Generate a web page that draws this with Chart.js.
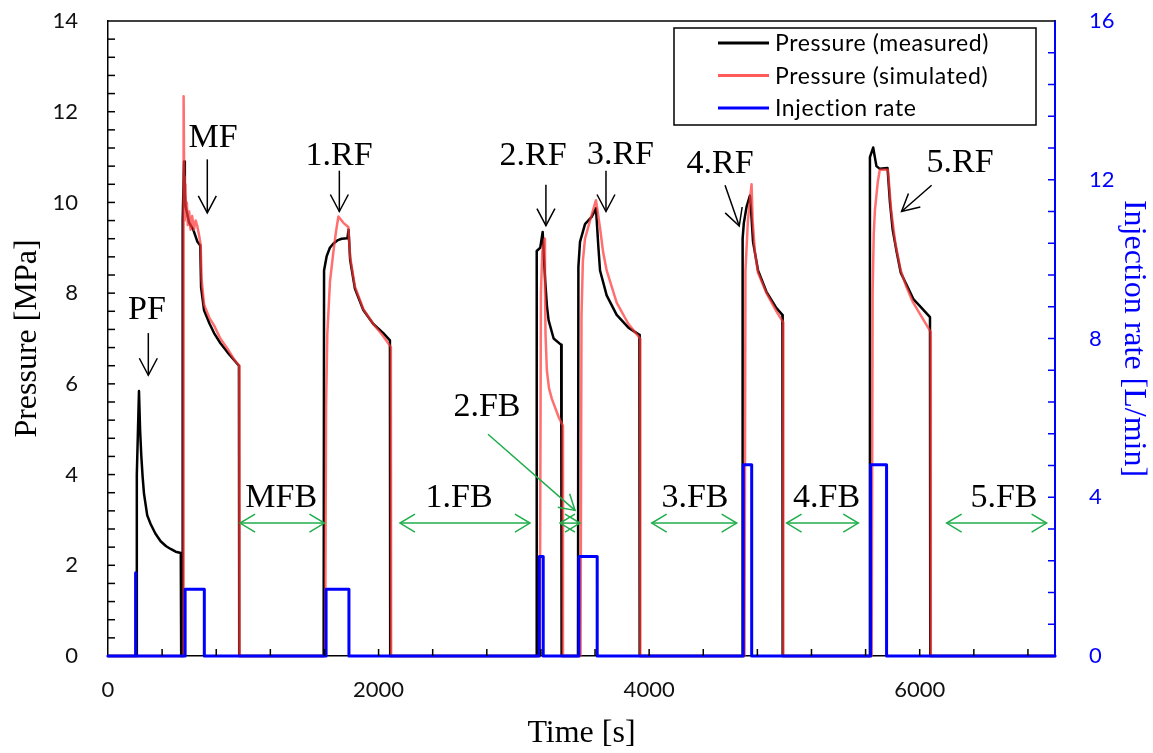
<!DOCTYPE html>
<html>
<head>
<meta charset="utf-8">
<title>Pressure and injection rate</title>
<script src="https://cdn.jsdelivr.net/npm/chart.js@4.4.1/dist/chart.umd.min.js"></script>
<style>
  html, body { margin: 0; padding: 0; background: #fff; }
  #chart { display: block; }
</style>
</head>
<body>
<canvas id="chart" width="1153" height="753"></canvas>
<script>
// measured pressure [MPa] against time [s]
const measT = [0, 210, 213, 229, 237, 246, 256, 266, 290, 315, 350, 389, 430, 463, 500, 538, 541,
  549, 552, 562, 568, 574, 581, 599, 630, 660, 682, 688, 710, 750, 784, 830, 882, 930, 968, 970,
  1594, 1597, 1616, 1640, 1665, 1700, 1727, 1770, 1778, 1790, 1825, 1887, 1961, 2035, 2084, 2086,
  3166, 3169, 3195, 3213, 3222, 3232, 3245, 3257, 3294, 3350, 3353,
  3474, 3477, 3489, 3526, 3575, 3607, 3624, 3637, 3686, 3760, 3847, 3928, 3930,
  4688, 4691, 4700, 4720, 4745, 4752, 4768, 4805, 4867, 4941, 4985, 4987,
  5628, 5632, 5656, 5680, 5705, 5762, 5780, 5800, 5830, 5860, 5900, 5953, 6000, 6076, 6078, 7000];
const measP = [0, 0, 4.0, 5.84, 5.0, 4.42, 3.95, 3.58, 3.1, 2.91, 2.7, 2.53, 2.42, 2.36, 2.3, 2.27, 0,
  0, 9.6, 10.9, 10.2, 9.9, 9.81, 9.56, 9.4, 9.14, 9.05, 8.13, 7.62, 7.33, 7.12, 6.9, 6.7, 6.53, 6.4, 0,
  0, 8.5, 8.81, 9.0, 9.09, 9.17, 9.2, 9.21, 9.4, 8.73, 8.1, 7.63, 7.32, 7.12, 6.96, 0,
  0, 8.93, 9.0, 9.35, 8.8, 8.26, 7.7, 7.4, 7.0, 6.86, 0,
  0, 8.58, 9.13, 9.52, 9.68, 9.87, 9.05, 8.5, 7.95, 7.52, 7.24, 7.08, 0,
  0, 9.2, 9.55, 9.9, 10.15, 9.9, 9.13, 8.5, 8.03, 7.67, 7.52, 0,
  0, 11.0, 11.21, 10.8, 10.74, 10.76, 10.0, 9.4, 8.9, 8.45, 8.2, 7.87, 7.72, 7.47, 0, 0];

// simulated pressure [MPa]
const simT = [0, 555, 559, 563, 567, 572, 577, 583, 590, 600, 610, 622, 635, 648, 660, 675, 685, 692, 710, 750, 784, 830, 882, 930, 970, 972,
  1605, 1612, 1621, 1641, 1665, 1685, 1703, 1740, 1776, 1790, 1825, 1887, 1961, 2035, 2091, 2093,
  3192, 3200, 3210, 3227, 3230, 3234, 3244, 3260, 3281, 3331, 3361, 3363,
  3493, 3500, 3510, 3526, 3563, 3607, 3637, 3660, 3686, 3760, 3847, 3933, 3935,
  4705, 4712, 4730, 4750, 4757, 4765, 4782, 4805, 4867, 4941, 4990, 4992,
  5645, 5652, 5660, 5669, 5690, 5705, 5765, 5790, 5820, 5860, 5900, 5950, 6000, 6080, 6082, 7000];
const simP = [0, 0, 12.34, 10.57, 9.6, 10.4, 9.7, 10.0, 9.5, 9.8, 9.4, 9.7, 9.4, 9.6, 9.48, 9.25, 9.06, 8.3, 7.75, 7.45, 7.29, 7.0, 6.78, 6.55, 6.4, 0,
  0, 5.5, 7.09, 8.26, 8.89, 9.35, 9.69, 9.55, 9.46, 8.8, 8.15, 7.65, 7.32, 7.05, 6.81, 0,
  0, 8.0, 8.9, 9.2, 8.2, 7.1, 6.3, 5.9, 5.67, 5.27, 5.08, 0,
  0, 7.5, 8.7, 9.2, 9.6, 10.05, 9.44, 8.9, 8.5, 7.79, 7.32, 7.0, 0,
  0, 8.5, 9.6, 10.2, 10.4, 9.6, 8.9, 8.45, 8.0, 7.6, 7.36, 0,
  0, 8.0, 9.3, 9.83, 10.45, 10.72, 10.72, 9.8, 9.1, 8.5, 8.15, 7.8, 7.55, 7.15, 0, 0];

// injection rate [L/min], stepped
const rateT = [0, 200, 200, 206, 206, 570, 570, 712, 712, 1612, 1612, 1781, 1781,
  3188, 3188, 3217, 3217, 3481, 3481, 3616, 3616, 4696, 4696, 4758, 4758, 5637, 5637, 5755, 5755, 7000];
const rateQ = [0, 0, 2.1, 2.1, 0, 0, 1.68, 1.68, 0, 0, 1.68, 1.68, 0,
  0, 2.51, 2.51, 0, 0, 2.51, 2.51, 0, 0, 4.82, 4.82, 0, 0, 4.82, 4.82, 0, 0];

const timeTicks = [0, 2000, 4000, 6000];
const pressureTicks = [0, 2, 4, 6, 8, 10, 12, 14];
const rateTicks = [0, 4, 8, 12, 16];

// fracturing stage labels: text, label position, arrow start and end (time, pressure)
const stageNames = ['PF', 'MF', '1.RF', '2.RF', '3.RF', '4.RF', '5.RF'];
const stageLabelT = [288, 776, 1708, 3142, 3788, 4524, 6298];
const stageLabelP = [7.62, 11.41, 11.02, 11.02, 11.05, 10.84, 10.86];
const stageArrowT0 = [298, 734, 1710, 3237, 3681, 4561, 6088];
const stageArrowP0 = [7.12, 10.95, 10.70, 10.39, 10.70, 10.38, 10.38];
const stageArrowT1 = [298, 734, 1710, 3237, 3681, 4666, 5866];
const stageArrowP1 = [6.19, 9.77, 9.80, 9.49, 9.80, 9.48, 9.80];

// flowback periods: text, label centre and the span of the double arrow
const flowbackNames = ['MFB', '1.FB', '3.FB', '4.FB', '5.FB'];
const flowbackLabelT = [1280, 2595, 4339, 5312, 6623];
const flowbackStartT = [976, 2158, 4019, 5016, 6199];
const flowbackEndT = [1600, 3119, 4647, 5546, 6938];
const flowbackLabelP = 3.49;
const flowbackArrowP = 2.93;

// the short 2.FB period is pointed at from a label further up
const fb2Label = { text: '2.FB', t: 2801, p: 5.48 };
const fb2Pointer = { t0: 2809, p0: 4.89, t1: 3452, p1: 3.21 };
const fb2Span = { t0: 3341, t1: 3489, p: 2.93 };

const toXY = (xs, ys) => xs.map((x, i) => ({ x: x, y: ys[i] }));

const GREEN = '#1fae4b';
const BLUE = '#0000ff';
const SERIF = '"Liberation Serif", "Times New Roman", serif';
const SANS = 'Lato, "Open Sans", sans-serif';

function arrowHead(ctx, x0, y0, x1, y1, len, half) {
  const a = Math.atan2(y1 - y0, x1 - x0);
  const c = Math.cos(a), s = Math.sin(a);
  ctx.beginPath();
  ctx.moveTo(x1 - len * c - half * s, y1 - len * s + half * c);
  ctx.lineTo(x1, y1);
  ctx.lineTo(x1 - len * c + half * s, y1 - len * s - half * c);
  ctx.stroke();
}

function line(ctx, x0, y0, x1, y1) {
  ctx.beginPath();
  ctx.moveTo(x0, y0);
  ctx.lineTo(x1, y1);
  ctx.stroke();
}

// inward minor/major tick marks plus the top frame line
const frame = {
  id: 'frame',
  afterDraw(chart) {
    const ctx = chart.ctx;
    const a = chart.chartArea;
    const xs = chart.scales.x, yl = chart.scales.y, yr = chart.scales.y2;
    ctx.save();
    ctx.lineWidth = 1.5;
    ctx.strokeStyle = '#000';
    line(ctx, a.left, a.top, a.right, a.top);
    for (let v = 400; v < 7000; v += 400) {
      const px = xs.getPixelForValue(v);
      line(ctx, px, a.bottom, px, a.bottom - 7);
    }
    for (let v = 0.4; v < 14; v += 0.4) {
      const py = yl.getPixelForValue(v);
      line(ctx, a.left, py, a.left + 7, py);
    }
    ctx.strokeStyle = BLUE;
    for (let v = 0.8; v < 16; v += 0.8) {
      const py = yr.getPixelForValue(v);
      line(ctx, a.right, py, a.right - 7, py);
    }
    ctx.restore();
  }
};

// stage names, flowback spans and the legend box
const notes = {
  id: 'notes',
  afterDraw(chart) {
    const ctx = chart.ctx;
    const xs = chart.scales.x, ys = chart.scales.y;
    const X = t => xs.getPixelForValue(t);
    const Y = p => ys.getPixelForValue(p);
    ctx.save();
    ctx.font = '34px ' + SERIF;
    ctx.textAlign = 'center';
    ctx.textBaseline = 'middle';

    ctx.fillStyle = '#000';
    ctx.strokeStyle = '#000';
    ctx.lineWidth = 1.5;
    stageNames.forEach((name, i) => {
      ctx.fillText(name, X(stageLabelT[i]), Y(stageLabelP[i]));
      const x0 = X(stageArrowT0[i]), y0 = Y(stageArrowP0[i]);
      const x1 = X(stageArrowT1[i]), y1 = Y(stageArrowP1[i]);
      line(ctx, x0, y0, x1, y1);
      arrowHead(ctx, x0, y0, x1, y1, 17, 9);
    });

    ctx.strokeStyle = GREEN;
    flowbackNames.forEach((name, i) => {
      ctx.fillText(name, X(flowbackLabelT[i]), Y(flowbackLabelP));
      const x0 = X(flowbackStartT[i]), x1 = X(flowbackEndT[i]), y = Y(flowbackArrowP);
      line(ctx, x0, y, x1, y);
      arrowHead(ctx, x1, y, x0, y, 15, 9);
      arrowHead(ctx, x0, y, x1, y, 15, 9);
    });

    ctx.fillText(fb2Label.text, X(fb2Label.t), Y(fb2Label.p));
    const px0 = X(fb2Pointer.t0), py0 = Y(fb2Pointer.p0);
    const px1 = X(fb2Pointer.t1), py1 = Y(fb2Pointer.p1);
    line(ctx, px0, py0, px1, py1);
    arrowHead(ctx, px0, py0, px1, py1, 15, 9);
    const sx0 = X(fb2Span.t0), sx1 = X(fb2Span.t1), sy = Y(fb2Span.p);
    line(ctx, sx0, sy, sx1, sy);
    arrowHead(ctx, sx1, sy, sx0, sy, 15, 9);
    arrowHead(ctx, sx0, sy, sx1, sy, 15, 9);

    // legend
    const bx = 674, by = 28, bw = 362, bh = 97;
    ctx.fillStyle = '#fff';
    ctx.fillRect(bx, by, bw, bh);
    ctx.strokeStyle = '#000';
    ctx.lineWidth = 1.5;
    ctx.strokeRect(bx, by, bw, bh);
    ctx.font = '23px ' + SANS;
    ctx.letterSpacing = '0.6px';
    ctx.textAlign = 'left';
    ctx.fillStyle = '#000';
    chart.data.datasets.forEach((ds, i) => {
      const ly = by + 15 + i * 32.5;
      ctx.strokeStyle = ds.legendColor || ds.borderColor;
      ctx.lineWidth = 3;
      line(ctx, bx + 44, ly, bx + 95, ly);
      ctx.fillText(ds.label, bx + 101, ly + 1);
    });
    ctx.restore();
  }
};

function fixedTicks(values) {
  return scale => { scale.ticks = values.map(v => ({ value: v })); };
}

// pin the axis box size and stop tick labels from pushing the plot area inwards
function fixedBox(width, height) {
  return scale => {
    if (width) scale.width = width;
    if (height) scale.height = height;
    scale.paddingTop = 0;
    scale.paddingBottom = 0;
  };
}

const plainNumber = v => String(v);

new Chart(document.getElementById('chart'), {
  type: 'line',
  data: {
    datasets: [
      {
        label: 'Pressure (measured)',
        data: toXY(measT, measP),
        borderColor: '#000',
        borderWidth: 2.5,
        yAxisID: 'y',
        order: 2
      },
      {
        label: 'Pressure (simulated)',
        data: toXY(simT, simP),
        borderColor: 'rgba(255, 55, 55, 0.72)',
        legendColor: '#ff5a5a',
        borderWidth: 2.5,
        yAxisID: 'y',
        order: 1
      },
      {
        label: 'Injection rate',
        data: toXY(rateT, rateQ),
        borderColor: BLUE,
        borderWidth: 3,
        yAxisID: 'y2',
        order: 0
      }
    ]
  },
  options: {
    responsive: false,
    animation: false,
    devicePixelRatio: 1,
    layout: { padding: { top: 21, left: 0, right: 0, bottom: 0 } },
    elements: {
      point: { radius: 0 },
      line: { tension: 0, borderJoinStyle: 'round', borderCapStyle: 'round' }
    },
    datasets: { line: { clip: false } },
    plugins: { legend: { display: false }, tooltip: { enabled: false } },
    scales: {
      x: {
        type: 'linear',
        min: 0,
        max: 7000,
        afterBuildTicks: fixedTicks(timeTicks),
        afterFit: fixedBox(0, 97),
        grid: { display: false },
        border: { display: true, color: '#000', width: 1.5 },
        ticks: { color: '#111', font: { family: SANS, size: 22 }, padding: 13, maxRotation: 0, callback: plainNumber },
        title: { display: true, text: 'Time [s]', color: '#000', font: { family: SERIF, size: 32 }, padding: { top: 0, bottom: 0 } }
      },
      y: {
        position: 'left',
        min: 0,
        max: 14,
        afterBuildTicks: fixedTicks(pressureTicks),
        afterFit: fixedBox(108, 0),
        grid: { display: false },
        border: { display: true, color: '#000', width: 1.5 },
        ticks: { color: '#111', font: { family: SANS, size: 22 }, padding: 22, callback: plainNumber },
        title: { display: true, text: 'Pressure [MPa]', color: '#000', font: { family: SERIF, size: 32 }, padding: { top: 8, bottom: 0 } }
      },
      y2: {
        position: 'right',
        min: 0,
        max: 16,
        afterBuildTicks: fixedTicks(rateTicks),
        afterFit: fixedBox(98, 0),
        grid: { display: false },
        border: { display: true, color: BLUE, width: 2 },
        ticks: { color: BLUE, font: { family: SANS, size: 22 }, padding: 26, callback: plainNumber },
        title: { display: true, text: 'Injection rate [L/min]', color: BLUE, font: { family: SERIF, size: 32 }, padding: { top: 0, bottom: 0 } }
      }
    }
  },
  plugins: [frame, notes]
});
</script>
</body>
</html>
